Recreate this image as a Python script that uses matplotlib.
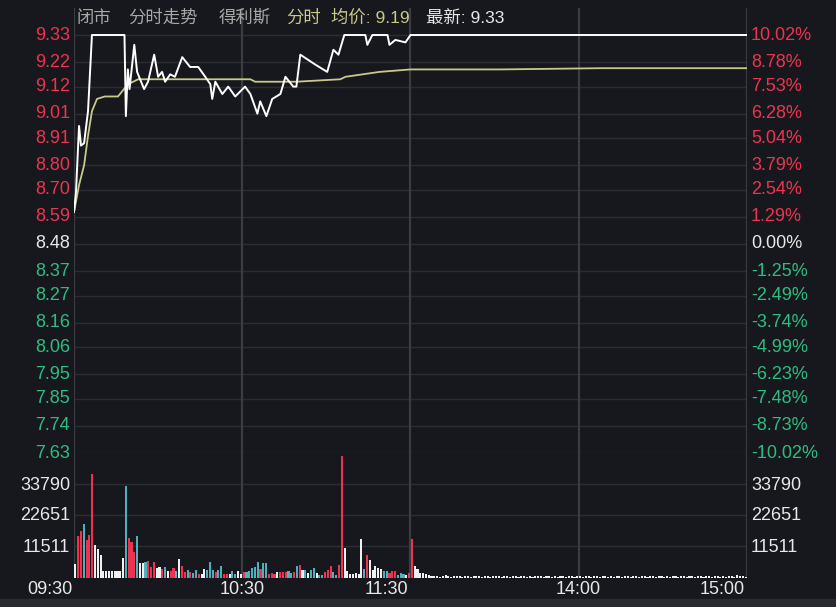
import matplotlib
matplotlib.use("Agg")
import matplotlib.pyplot as plt
import numpy as np

plt.rcParams['font.family'] = ['Liberation Sans', 'Noto Sans CJK SC', 'DejaVu Sans']

W, H = 837, 607
prev_close = 8.48
price_ticks = [9.33, 9.22, 9.12, 9.01, 8.91, 8.80, 8.70, 8.59, 8.48, 8.37, 8.27, 8.16, 8.06, 7.95, 7.85, 7.74, 7.63]
pct_labels = ["10.02%", "8.78%", "7.53%", "6.28%", "5.04%", "3.79%", "2.54%", "1.29%", "0.00%",
              "-1.25%", "-2.49%", "-3.74%", "-4.99%", "-6.23%", "-7.48%", "-8.73%", "-10.02%"]
vol_ticks = [11511, 22651, 33790]
time_labels = ["09:30", "10:30", "11:30", "14:00", "15:00"]

# price line (minute index, price)
price_min = [0, 0.7, 1.8, 2.5, 3.6, 5, 6.4, 18, 18.5, 19.2, 19.8, 21.5, 22.5, 25, 26.4, 28.6, 30, 31.4, 32.5,
             34.3, 36, 38.6, 41.4, 44.3, 46.8, 48.6, 49.3, 50.4, 52.9, 55, 57.5, 61, 62.9, 65.4, 66.4, 68.6,
             70.7, 73.6, 75.4, 78.2, 79.3, 80.7, 86, 90.3, 92.5, 94.3, 96.4, 103.9, 104.6, 106.4, 111.8,
             112.5, 114.6, 118.2, 120, 240]
price_val = [8.61, 8.69, 8.96, 8.88, 8.89, 9.02, 9.33, 9.33, 9.00, 9.19, 9.11, 9.29, 9.18, 9.11, 9.14, 9.25,
             9.16, 9.18, 9.14, 9.17, 9.16, 9.24, 9.20, 9.20, 9.16, 9.13, 9.07, 9.14, 9.09, 9.12, 9.08, 9.12,
             9.09, 9.01, 9.06, 9.00, 9.07, 9.09, 9.16, 9.12, 9.12, 9.25, 9.21, 9.18, 9.27, 9.25, 9.33, 9.33,
             9.29, 9.33, 9.33, 9.29, 9.31, 9.30, 9.33, 9.33]
avg_min = [0, 1.8, 3.6, 5, 6.4, 8.2, 11, 15.7, 17.1, 19.3, 22.9, 30.7, 62.9, 64.6, 79.3, 95, 96.8, 109, 120, 152, 188, 240]
avg_val = [8.61, 8.72, 8.80, 8.92, 9.02, 9.07, 9.08, 9.08, 9.10, 9.13, 9.15, 9.15, 9.15, 9.14, 9.14, 9.15,
           9.16, 9.18, 9.19, 9.19, 9.195, 9.195]

vol_morning = [5040, 15000, 16800, 19560, 13800, 15600, 37440, 12000, 10560, 8160,
               2640, 2640, 2640, 2640, 2640, 2640, 2640, 7200, 33000, 14400,
               12960, 9360, 15000, 5400, 5400, 5760, 6240, 3840, 5760, 3600,
               3960, 3120, 3960, 2400, 2400, 3600, 2400, 6960, 4440, 2040,
               2760, 2040, 1800, 3000, 1560, 1560, 3360, 3000, 5640, 3000,
               2040, 3000, 4200, 1440, 1560, 1560, 2640, 1440, 2400, 1560,
               2040, 2040, 2400, 3600, 3840, 5640, 3240, 5280, 5280, 1440,
               1800, 1560, 2160, 2160, 2160, 2160, 2640, 1800, 2040, 4200,
               4800, 2760, 2760, 1800, 2760, 3480, 1800, 960, 1200, 2040,
               2760, 4200, 2040, 1200, 4800, 43800, 10800, 2400, 1440, 1560,
               1800, 1440, 14040, 3240, 8400, 6360, 3000, 4440, 3600, 3240,
               2400, 2400, 1800, 2400, 2400, 1200, 1800, 1440, 1200, 1800, 14040]
vol_morning_col = list("wrrtrrrwww" "wwwwwwwwtr" "rrtwwtrrrw" "wrtwrrtwrr"
                       "trttrwwttt" "rttrrwttww" "rtttttrttr" "rrwrrrttrt"
                       "rwtwttwttr" "rrttrrwwww" "wwwtrwwwww" "ttrrrtttwrr")
vol_afternoon = [4200, 3240, 1800, 1800, 1440, 960, 700, 600, 800, 500, 600, 900, 700, 500, 600,
                 800, 600, 500, 700, 600, 500, 800, 600, 700, 500, 600, 700, 500, 800, 600,
                 600, 500, 700, 600, 500, 600, 800, 500, 600, 700, 500, 600, 500, 700, 600,
                 800, 500, 600, 700, 500, 600, 500, 700, 600, 500, 800, 600, 500, 700, 600,
                 500, 600, 700, 500, 600, 800, 500, 600, 700, 500, 600, 500, 700, 600, 500,
                 800, 600, 500, 700, 600, 500, 600, 700, 500, 600, 800, 500, 600, 700, 500,
                 600, 500, 700, 600, 500, 800, 600, 500, 700, 600, 500, 600, 700, 500, 600,
                 800, 500, 600, 700, 500, 600, 500, 700, 600, 500, 900, 700, 600, 500]

BG = '#17181d'
GRID = '#2c2d33'
VGRID = '#3b3c42'
RED = '#ee3350'
GREEN = '#2ebd7f'
TEAL = '#4cb1bd'
AVG = '#c9c98a'
WHITE = '#e8e8e8'
colmap = {'r': RED, 't': TEAL, 'w': '#f0f0f0'}

fig = plt.figure(figsize=(W / 100, H / 100), dpi=100, facecolor=BG)
def fx(px): return px / W
def fy(py): return 1 - py / H

L, R = 74, 747
ax = fig.add_axes([fx(L), fy(453), (R - L) / W, (453 - 8) / H], facecolor=BG)
axv = fig.add_axes([fx(L), fy(578), (R - L) / W, 125 / H], facecolor=BG)

ppx = (9.33 - 7.63) / (453 - 35)
ax.set_ylim(7.63, 9.33 + (35 - 8) * ppx)
ax.set_xlim(0, 240)
axv.set_xlim(0, 240)
axv.set_ylim(0, 11140 / 31 * 125)

for a in (ax, axv):
    a.set_xticks([]); a.set_yticks([])
    for s in a.spines.values():
        s.set_visible(False)

for t in price_ticks:
    ax.axhline(t, color=GRID, lw=1, zorder=0)
for v in vol_ticks:
    axv.axhline(v, color=GRID, lw=1, zorder=0)
for m in [60, 120, 180]:
    ax.axvline(m, color=VGRID, lw=1.6, zorder=0)
    axv.axvline(m, color=VGRID, lw=1.6, zorder=0)
for a in (ax, axv):
    a.axvline(0, color=VGRID, lw=1.6)
    a.axvline(240, color=VGRID, lw=1.6)
axv.axhline(0, color=VGRID, lw=1)

ax.plot(avg_min, avg_val, color=AVG, lw=1.3, zorder=3)
ax.plot(price_min, price_val, color='white', lw=1.4, zorder=4)

xs = np.arange(len(vol_morning))
axv.bar(xs + 0.5, vol_morning, width=0.75, color=[colmap[c] for c in vol_morning_col], zorder=3)
xa = np.arange(len(vol_morning), len(vol_morning) + len(vol_afternoon))
axv.bar(xa + 0.5, vol_afternoon, width=0.75, color='#f0f0f0', zorder=3)

fs = 13
for t, p in zip(price_ticks, pct_labels):
    c = RED if t > prev_close + 1e-9 else (WHITE if abs(t - prev_close) < 1e-9 else GREEN)
    y = fy(35 + (9.33 - t) / ppx)
    fig.text(fx(70), y, f"{t:.2f}", color=c, fontsize=fs, ha='right', va='center')
    fig.text(fx(751), y, p, color=c, fontsize=fs, ha='left', va='center')
for v, py in zip(vol_ticks, [547, 516, 485]):
    fig.text(fx(70), fy(py), str(v), color=WHITE, fontsize=fs, ha='right', va='center')
    fig.text(fx(751), fy(py), str(v), color=WHITE, fontsize=fs, ha='left', va='center')

for lab, px, ha in zip(time_labels, [72, 242, 408, 578, 745], ['right', 'center', 'right', 'center', 'right']):
    fig.text(fx(px), fy(590), lab, color=WHITE, fontsize=fs, ha=ha, va='center')

hy = fy(18)
hf = 12.5
fig.text(fx(77), hy, "闭市", color='#a8a8a8', fontsize=hf, va='center')
fig.text(fx(128), hy, "分时走势", color='#a8a8a8', fontsize=hf, va='center')
fig.text(fx(219), hy, "得利斯", color='#a8a8a8', fontsize=hf, va='center')
fig.text(fx(286), hy, "分时", color=AVG, fontsize=hf, va='center')
fig.text(fx(331), hy, "均价: 9.19", color=AVG, fontsize=hf, va='center')
fig.text(fx(426), hy, "最新: 9.33", color=WHITE, fontsize=hf, va='center')

fig.add_artist(plt.Line2D([0, 1], [fy(603), fy(603)], color='#2a2b30', lw=6))

fig.savefig("out.png", dpi=100, facecolor=BG)
